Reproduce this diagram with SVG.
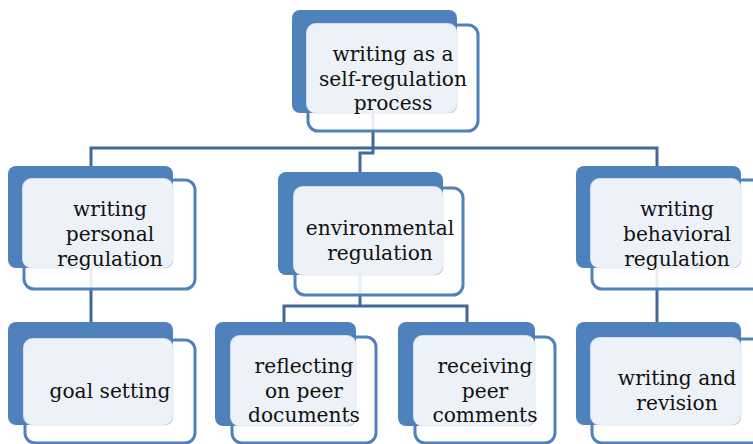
<svg xmlns="http://www.w3.org/2000/svg" width="753" height="444" viewBox="0 0 753 444">
<style>
.frame{fill:#ffffff;fill-opacity:0.88;stroke:#4F81BD;stroke-width:3}
.back{fill:#4F81BD}
.light{fill:#EDF2F9;stroke:#DDE5F0;stroke-width:0.8}
.conn{fill:none;stroke:#41689B;stroke-width:3}
text{font-family:"DejaVu Serif","Liberation Serif",serif;font-size:20.2px;fill:#111;text-anchor:middle}
</style>
<rect width="753" height="444" fill="#ffffff"/>
<g id="connectors">
<path class="conn" d="M373,113 V153 H360 V172"/>
<path class="conn" d="M91,166 V148 H657 V166"/>
<path class="conn" d="M91,268 V322"/>
<path class="conn" d="M657,268 V322"/>
<path class="conn" d="M360,275 V306"/>
<path class="conn" d="M284,322 V306 H467 V322"/>
</g>
<g id="n-root">
<rect class="frame" x="308" y="25" width="170" height="106" rx="10"/>
<rect class="back" x="292" y="10" width="165" height="103" rx="8"/>
<rect class="light" x="306.5" y="23.5" width="150.5" height="89.5" rx="9"/>
<text x="393" y="61">writing as a</text>
<text x="393" y="86">self-regulation</text>
<text x="393" y="110">process</text>
</g>
<g id="n-personal">
<rect class="frame" x="24" y="180" width="171" height="109" rx="10"/>
<rect class="back" x="8" y="166" width="165" height="102" rx="8"/>
<rect class="light" x="22.5" y="178.5" width="150.5" height="89.5" rx="9"/>
<text x="110" y="216">writing</text>
<text x="110" y="241">personal</text>
<text x="110" y="266">regulation</text>
</g>
<g id="n-environmental">
<rect class="frame" x="295" y="188" width="168" height="107" rx="10"/>
<rect class="back" x="278" y="172" width="165" height="103" rx="8"/>
<rect class="light" x="293.5" y="186.5" width="149.5" height="88.5" rx="9"/>
<text x="380" y="235">environmental</text>
<text x="380" y="260">regulation</text>
</g>
<g id="n-behavioral">
<rect class="frame" x="592" y="180" width="171" height="109" rx="10"/>
<rect class="back" x="576" y="166" width="165" height="102" rx="8"/>
<rect class="light" x="590.5" y="178.5" width="150.5" height="89.5" rx="9"/>
<text x="677" y="216">writing</text>
<text x="677" y="241">behavioral</text>
<text x="677" y="266">regulation</text>
</g>
<g id="n-goal">
<rect class="frame" x="25" y="340" width="170" height="103" rx="10"/>
<rect class="back" x="8" y="322" width="165" height="103" rx="8"/>
<rect class="light" x="23.5" y="338.5" width="149.5" height="86.5" rx="9"/>
<text x="110" y="398">goal setting</text>
</g>
<g id="n-reflecting">
<rect class="frame" x="232" y="337" width="144" height="106" rx="10"/>
<rect class="back" x="215" y="322" width="141" height="104" rx="8"/>
<rect class="light" x="230.5" y="335.5" width="125.5" height="90.5" rx="9"/>
<text x="304" y="373">reflecting</text>
<text x="304" y="398">on peer</text>
<text x="304" y="422">documents</text>
</g>
<g id="n-receiving">
<rect class="frame" x="415" y="337" width="140" height="106" rx="10"/>
<rect class="back" x="398" y="322" width="137" height="104" rx="8"/>
<rect class="light" x="413.5" y="335.5" width="121.5" height="90.5" rx="9"/>
<text x="485" y="373">receiving</text>
<text x="485" y="398">peer</text>
<text x="485" y="422">comments</text>
</g>
<g id="n-revision">
<rect class="frame" x="592" y="339" width="171" height="104" rx="10"/>
<rect class="back" x="576" y="322" width="165" height="103" rx="8"/>
<rect class="light" x="590.5" y="337.5" width="150.5" height="87.5" rx="9"/>
<text x="677" y="385">writing and</text>
<text x="677" y="410">revision</text>
</g>
</svg>
